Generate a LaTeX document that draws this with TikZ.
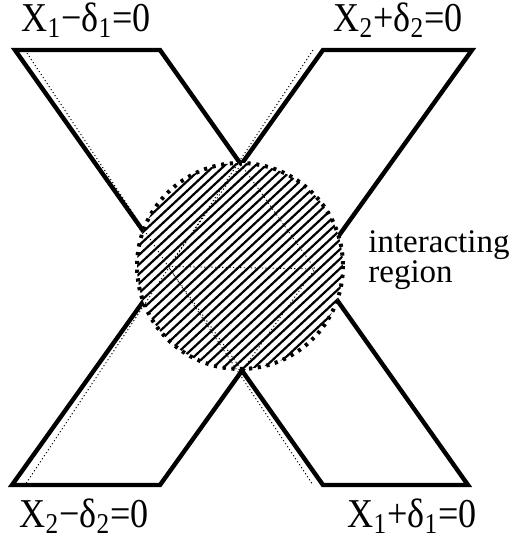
\documentclass[tikz,border=0pt]{standalone}
\usepackage{fontspec}
\usepackage{graphicx}
\setmainfont{Liberation Serif}
\usetikzlibrary{positioning}
\newcommand{\eqtext}[1]{\scalebox{0.88}[1.0]{#1}}
\tikzset{
  edge/.style={line width=2.2pt, line cap=round, line join=miter},
  ray/.style={line width=0.45pt, dash pattern=on 0.6pt off 1.2pt},
  hatchline/.style={line width=1.1pt},
  rim/.style={line width=2pt, dash pattern=on 1.6pt off 2.8pt},
  eqlabel/.style={font=\fontsize{20.5}{24}\selectfont, inner sep=0pt},
  note/.style={font=\fontsize{16.5}{15}\selectfont, align=left, inner sep=0pt}
}

\begin{document}
\begin{tikzpicture}[x=0.5pt,y=-0.5pt]
  \useasboundingbox (0,0) rectangle (515,537);
  % corners of the two strips
  \coordinate (pa) at (15,50);   \coordinate (pb) at (160,50);
  \coordinate (pc) at (468,485); \coordinate (pd) at (323,485);
  \coordinate (qa) at (323,50);  \coordinate (qb) at (472,50);
  \coordinate (qc) at (160,485); \coordinate (qd) at (12,485);
  \coordinate (o) at (240,266);
  \coordinate (vt) at (intersection of pb--pc and qa--qd);
  \coordinate (vb) at (intersection of pa--pd and qb--qc);
  \coordinate (vl) at (intersection of pa--pd and qa--qd);
  \coordinate (vr) at (intersection of pb--pc and qb--qc);

  % strips
  \draw[edge] (pa) -- (pb) -- (pc) -- (pd) -- cycle;
  \draw[edge] (qa) -- (qb) -- (qc) -- (qd) -- cycle;

  % interacting region
  \fill[white] (o) circle (103);
  \begin{scope}
    \clip (o) circle (103);
    \begin{scope}[shift={(o)}, rotate=43]
      \foreach \k in {-15,...,15}
        \draw[hatchline] (-120,\k*7) -- (120,\k*7);
    \end{scope}
    \draw[ray] (vt) -- (vr) -- (vb) -- (vl) -- cycle;
    \draw[ray] (vl) -- (vr);
  \end{scope}

  % light rays
  \draw[ray] (25,50) coordinate (ra) -- (313,485) coordinate (rb);
  \draw[ray] (313,50) coordinate (rc) -- (25,485) coordinate (rd);

  \draw[rim] (o) circle (103);

  % labels
  \node[eqlabel] (lta) at (86,20) {\eqtext{X\textsubscript{1}−δ\textsubscript{1}=0}};
  \node[eqlabel] (ltb) at (398,20) {\eqtext{X\textsubscript{2}+δ\textsubscript{2}=0}};
  \node[eqlabel] (lba) at (84,516) {\eqtext{X\textsubscript{2}−δ\textsubscript{2}=0}};
  \node[eqlabel] (lbb) at (412,516) {\eqtext{X\textsubscript{1}+δ\textsubscript{1}=0}};
  \node[note, anchor=west] (region) at (368,260) {interacting\\region};
\end{tikzpicture}
\end{document}
